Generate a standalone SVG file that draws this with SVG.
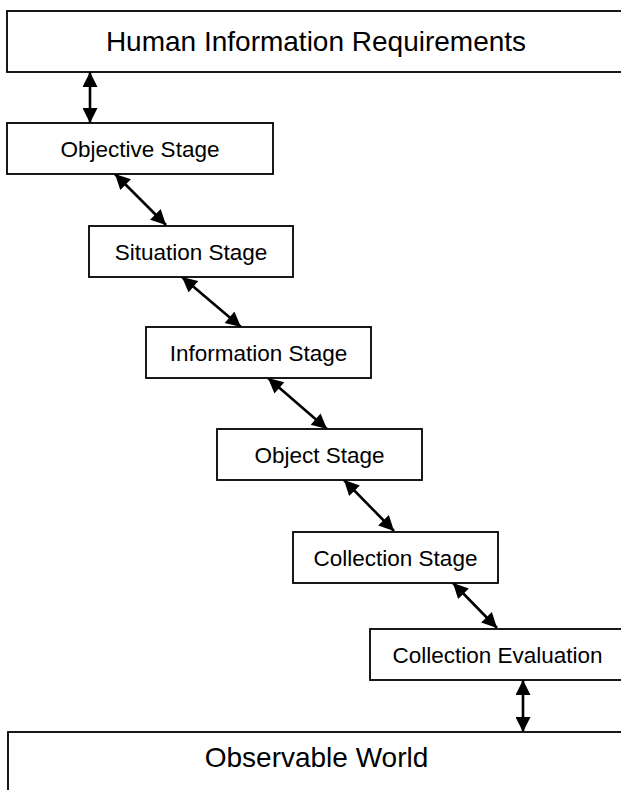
<svg xmlns="http://www.w3.org/2000/svg" width="621" height="790" viewBox="0 0 621 790">
<style>
.box{fill:#fff;stroke:#000;stroke-width:1.8}
.t{font-family:"Liberation Sans",Arial,sans-serif;fill:#000;text-anchor:middle}
.s{font-size:22.5px}
.b{font-size:28px}
.c{stroke:#000;stroke-width:2.6;fill:none;marker-start:url(#ah);marker-end:url(#ah)}
</style>
<defs>
<marker id="ah" viewBox="0 0 10 10" refX="10" refY="5" markerUnits="userSpaceOnUse" markerWidth="16" markerHeight="15" orient="auto-start-reverse">
<path d="M0,0 L10,5 L0,10 z" fill="#000"/>
</marker>
</defs>
<rect width="621" height="790" fill="#fff"/>
<g id="connectors">
<line class="c" x1="90" y1="72" x2="90" y2="123"/>
<line class="c" x1="115" y1="174" x2="166" y2="225"/>
<line class="c" x1="182" y1="277" x2="241" y2="327"/>
<line class="c" x1="268" y1="378" x2="327" y2="429"/>
<line class="c" x1="344" y1="480" x2="394" y2="531"/>
<line class="c" x1="453" y1="583" x2="497" y2="628"/>
<line class="c" x1="523" y1="680" x2="523" y2="732"/>
</g>
<g id="human-information-requirements">
<rect class="box" x="7" y="11" width="620" height="61"/>
<text class="t b" x="316" y="51">Human Information Requirements</text>
</g>
<g id="objective-stage">
<rect class="box" x="7" y="123" width="266" height="51"/>
<text class="t s" x="140" y="156.5">Objective Stage</text>
</g>
<g id="situation-stage">
<rect class="box" x="89" y="226" width="204" height="51"/>
<text class="t s" x="191" y="259.5">Situation Stage</text>
</g>
<g id="information-stage">
<rect class="box" x="146" y="327" width="225" height="51"/>
<text class="t s" x="258.5" y="360.5">Information Stage</text>
</g>
<g id="object-stage">
<rect class="box" x="217" y="429" width="205" height="51"/>
<text class="t s" x="319.5" y="462.5">Object Stage</text>
</g>
<g id="collection-stage">
<rect class="box" x="293" y="532" width="205" height="51"/>
<text class="t s" x="395.5" y="565.5">Collection Stage</text>
</g>
<g id="collection-evaluation">
<rect class="box" x="370" y="629" width="255" height="51"/>
<text class="t s" x="497.5" y="662.5">Collection Evaluation</text>
</g>
<g id="observable-world">
<rect class="box" x="8" y="732" width="620" height="80"/>
<text class="t b" x="316.5" y="767">Observable World</text>
</g>
</svg>
